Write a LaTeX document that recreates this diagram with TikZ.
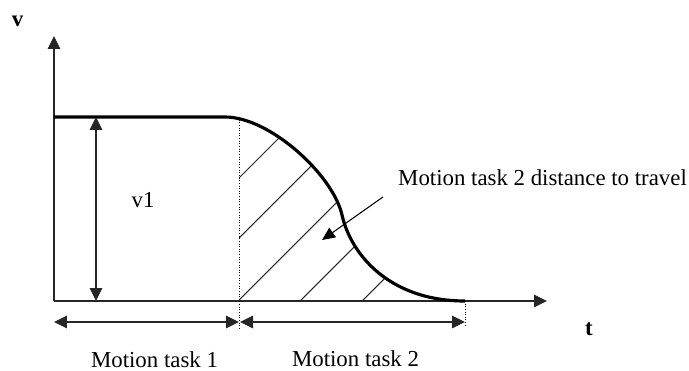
\documentclass[tikz,border=0pt]{standalone}
\usepackage{fontspec}
\setmainfont{Liberation Serif}
\usetikzlibrary{positioning,arrows.meta}
\tikzset{
  axisline/.style={-{Triangle[length=2.6mm, width=2.5mm]}, line width=0.8pt, black!85},
  spanarrow/.style={{Triangle[length=2.6mm, width=2.5mm]}-{Triangle[length=2.6mm, width=2.5mm]}, line width=0.7pt, black!85},
  guideline/.style={densely dotted, line width=0.5pt},
  profile/.style={line width=1.8pt, line join=round},
  hatchline/.style={line width=0.6pt, black!85},
  pointer/.style={-{Triangle[length=2.6mm, width=2.3mm]}, line width=0.6pt},
  axislabel/.style={font=\fontsize{13}{15}\selectfont\bfseries, inner sep=0pt, anchor=base},
  tasklabel/.style={font=\fontsize{13}{15}\selectfont, inner sep=0pt, anchor=base}
}
\begin{document}
\begin{tikzpicture}[x=0.02cm, y=-0.02cm]
  \useasboundingbox (0,0) rectangle (689,371);
  % axes
  \coordinate (O) at (54,301);
  \coordinate (vtop) at (54,36);
  \coordinate (tend) at (547,301);
  \draw[axisline] (O) -- (vtop);
  \draw[axisline] (O) -- (tend);
  \node[axislabel] (vlab) at (17.5,27) {v};
  \node[axislabel] (tlab) at (589,335) {t};

  % speed profile
  \coordinate (top) at (54,117);
  \coordinate (bend) at (225,117);
  \coordinate (inflect) at (342,215);
  \coordinate (stop) at (465,301);
  \coordinate (split) at (239,117);
  \coordinate (splitlow) at (239,329);
  \coordinate (stoplow) at (465,327);

  % hatched area of task 2
  \begin{scope}
    \clip (239,301) -- (split) -- (bend) .. controls (270,117) and (333,175) .. (inflect)
          .. controls (351,255) and (390,301) .. (stop) -- cycle;
    \foreach \c in {417,477,539,601,663}
      \draw[hatchline] (239,\c-239) -- (\c-118,118);
  \end{scope}

  \draw[guideline] (split) -- (splitlow);
  \draw[guideline] (stop) -- (stoplow);
  \draw[profile] (top) -- (bend) .. controls (270,117) and (333,175) .. (inflect)
        .. controls (351,255) and (390,301) .. (stop);

  % v1
  \coordinate (v1top) at (96,117);
  \coordinate (v1low) at (96,301);
  \draw[spanarrow] (v1low) -- (v1top);
  \node[tasklabel] (v1lab) at (143,208) {v1};

  % task spans
  \coordinate (s1a) at (54,322);
  \coordinate (s1b) at (239,322);
  \coordinate (s2a) at (240,322);
  \coordinate (s2b) at (465,322);
  \draw[spanarrow] (s1a) -- (s1b);
  \draw[spanarrow] (s2a) -- (s2b);
  \node[tasklabel] (task1) at (154.5,367) {Motion task 1};
  \node[tasklabel] (task2) at (355.5,366) {Motion task 2};

  % distance note
  \node[tasklabel] (dist) at (542.5,185.5) {Motion task 2 distance to travel};
  \coordinate (ptail) at (383,197);
  \coordinate (phead) at (322,240);
  \draw[pointer] (ptail) -- (phead);
\end{tikzpicture}
\end{document}
